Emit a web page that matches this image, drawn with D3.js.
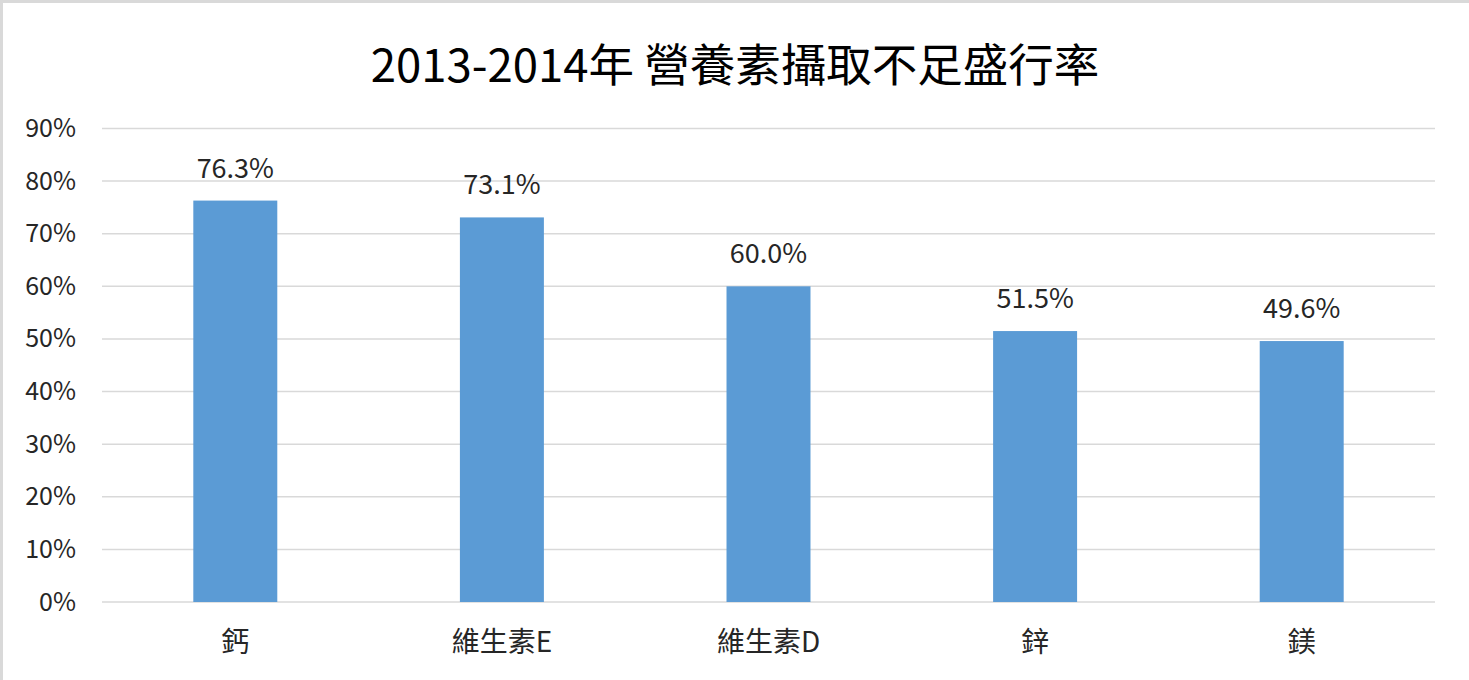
<!DOCTYPE html>
<html><head><meta charset="utf-8">
<script src="https://cdn.jsdelivr.net/npm/d3@7"></script>
<style>
html,body{margin:0;padding:0;background:#fff;}
svg{display:block;}
</style></head>
<body>
<svg id="chart" width="1469" height="680"></svg>
<script>
const titleText = "2013-2014年 營養素攝取不足盛行率";
const categories = ["鈣", "維生素E", "維生素D", "鋅", "鎂"];
const values = [76.3, 73.1, 60.0, 51.5, 49.6];
const yTicks = [0, 10, 20, 30, 40, 50, 60, 70, 80, 90];

const W = 1469, H = 680;
const margin = {left: 102, right: 34, top: 128, bottom: 78};
const svg = d3.select("#chart");
const font = "'Noto Sans CJK TC', 'Noto Sans', sans-serif";

// border (top & left visible)
svg.append("rect").attr("x",0).attr("y",0).attr("width",W).attr("height",3).attr("fill","#d9d9d9");
svg.append("rect").attr("x",0).attr("y",0).attr("width",3).attr("height",H).attr("fill","#d9d9d9");

const x = d3.scaleBand().domain(categories).range([margin.left, W - margin.right]).paddingInner(0.685).paddingOuter(0.3425);
const y = d3.scaleLinear().domain([0, 90]).range([602, 128.5]);

// gridlines
svg.append("g").selectAll("line").data(yTicks).join("line")
  .attr("x1", margin.left).attr("x2", W - margin.right)
  .attr("y1", d => y(d)).attr("y2", d => y(d))
  .attr("stroke", "#d9d9d9").attr("stroke-width", 1.5);

// y axis labels
const yAxis = d3.axisLeft(y).tickValues(yTicks).tickFormat(d => d + "%").tickSize(0).tickPadding(0);
const yg = svg.append("g").attr("transform", "translate(76,0)").call(yAxis);
yg.select(".domain").remove();
yg.selectAll("text").attr("font-family", font).attr("font-size", 25).attr("fill", "#262626");

// bars
svg.append("g").selectAll("rect").data(values).join("rect")
  .attr("x", (d,i) => x(categories[i]))
  .attr("width", x.bandwidth())
  .attr("y", d => y(d))
  .attr("height", d => y(0) - y(d))
  .attr("fill", "#5b9bd5");

// value labels
svg.append("g").selectAll("text").data(values).join("text")
  .attr("x", (d,i) => x(categories[i]) + x.bandwidth()/2)
  .attr("y", d => y(d) - 23)
  .attr("text-anchor", "middle")
  .attr("font-family", font).attr("font-size", 27).attr("fill", "#262626")
  .text(d => d.toFixed(1) + "%");

// x axis labels
const xAxis = d3.axisBottom(x).tickSize(0).tickPadding(0);
const xg = svg.append("g").attr("transform", "translate(0,640)").call(xAxis);
xg.select(".domain").remove();
xg.selectAll("text").attr("font-family", font).attr("font-size", 28).attr("fill", "#262626")
  .attr("dy", null).attr("dominant-baseline", "central");

// title
svg.append("text").attr("x", 735).attr("y", 62)
  .attr("text-anchor", "middle").attr("dominant-baseline", "central")
  .attr("font-family", font).attr("font-size", 45.5).attr("fill", "#000")
  .text(titleText);
</script>
</body></html>
